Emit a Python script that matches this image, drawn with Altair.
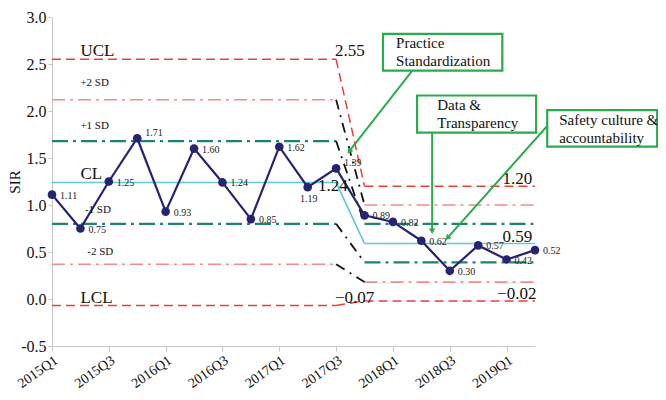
import math
import altair as alt
import pandas as pd

quarters = ["2015Q1", "2015Q2", "2015Q3", "2015Q4", "2016Q1", "2016Q2", "2016Q3", "2016Q4",
            "2017Q1", "2017Q2", "2017Q3", "2017Q4", "2018Q1", "2018Q2", "2018Q3", "2018Q4",
            "2019Q1", "2019Q2"]
sir = [1.11, 0.75, 1.25, 1.71, 0.93, 1.60, 1.24, 0.85, 1.62, 1.19, 1.39, 0.89, 0.82, 0.62,
       0.30, 0.57, 0.42, 0.52]
label_place = ["r", "r", "r", "ur", "r", "r", "r", "r", "r", "b", "ur", "r", "r", "r",
               "r", "r", "r", "r"]

limit_names = ["UCL", "+2 SD", "+1 SD", "CL", "-1 SD", "-2 SD", "LCL"]
phase1_limits = [2.55, 2.12, 1.68, 1.24, 0.80, 0.37, -0.07]
phase2_limits = [1.20, 1.00, 0.80, 0.59, 0.39, 0.18, -0.02]
phase1_end = 10
phase2_start = 11

boxes = ["Practice\nStandardization", "Data &\nTransparency", "Safety culture &\naccountability"]

# layout constants
W, H = 483, 329
XMAX, YMIN, YMAX = 17, -0.5, 3.0
PXX = W / XMAX
PXY = H / (YMAX - YMIN)
SERIF = "'Liberation Serif', 'Times New Roman', Times, 'DejaVu Serif', serif"

style_of = {"UCL": "ctrl", "LCL": "ctrl", "+2 SD": "sd2", "-2 SD": "sd2",
            "+1 SD": "sd1", "-1 SD": "sd1", "CL": "cl"}
trans_style = {"UCL": "ctrl", "LCL": "ctrl", "CL": "cl"}

rows = []
for name, a, b in zip(limit_names, phase1_limits, phase2_limits):
    st = style_of[name]
    rows += [dict(x=0, y=a, g=name + "1", s=st), dict(x=phase1_end, y=a, g=name + "1", s=st)]
    rows += [dict(x=phase2_start, y=b, g=name + "2", s=st), dict(x=XMAX, y=b, g=name + "2", s=st)]
    ts = trans_style.get(name, "trans")
    rows += [dict(x=phase1_end, y=a, g=name + "t", s=ts), dict(x=phase2_start, y=b, g=name + "t", s=ts)]
lim_df = pd.DataFrame(rows)

xs = alt.X("x:Q", scale=alt.Scale(domain=[0, XMAX], nice=False, zero=False),
           axis=alt.Axis(values=list(range(len(quarters))), title=None,
                         labelExpr="datum.value % 2 == 0 ? " + str(quarters) + "[datum.value] : ''",
                         labelAngle=325, labelAlign="right", labelBaseline="top",
                         labelFont=SERIF, labelFontSize=14, labelColor="#111",
                         domainColor="#c8c8c8", tickColor="#c8c8c8", tickSize=5,
                         labelPadding=2, grid=False))
ys = alt.Y("y:Q", scale=alt.Scale(domain=[YMIN, YMAX], nice=False, zero=False),
           axis=alt.Axis(values=[-0.5, 0, 0.5, 1, 1.5, 2, 2.5, 3], title="SIR",
                         labelExpr="replace(format(datum.value, '.1f'), '\u2212', '-')",
                         labelFont=SERIF, labelFontSize=16, labelColor="#111",
                         titleFont=SERIF, titleFontSize=15, titleFontWeight="normal",
                         titleColor="#111", titleX=-38, titleY=H / 2, titleAngle=270,
                         titleAlign="center", titleBaseline="middle",
                         domainColor="#c8c8c8", tickColor="#c8c8c8", tickSize=4, grid=False))
xq = alt.X("x:Q", scale=alt.Scale(domain=[0, XMAX]))
yq = alt.Y("y:Q", scale=alt.Scale(domain=[YMIN, YMAX]))

styles = {
    "ctrl": dict(color="#e8413a", strokeDash=[9, 5], strokeWidth=1.5),
    "sd2": dict(color="#f28c86", strokeDash=[13, 5, 3, 5], strokeWidth=1.6),
    "sd1": dict(color="#1d8474", strokeDash=[16, 5, 3, 5], strokeWidth=2.2),
    "cl": dict(color="#62c8da", strokeWidth=1.6),
    "trans": dict(color="#111111", strokeDash=[10, 6, 2, 6], strokeWidth=1.8),
}

base_lim = alt.Chart(lim_df)
layers = []
first = True
for key, st in styles.items():
    ch = base_lim.transform_filter(alt.datum.s == key).mark_line(clip=False, **st).encode(
        x=xs if first else xq, y=ys if first else yq, detail="g:N")
    first = False
    layers.append(ch)

# data series
data_df = pd.DataFrame({"x": list(range(len(quarters))), "y": sir, "q": quarters,
                        "p": label_place})
line = alt.Chart(data_df).mark_line(color="#262470", strokeWidth=2.2).encode(x=xq, y=yq)
pts = alt.Chart(data_df).mark_circle(color="#262470", size=75, opacity=1).encode(x=xq, y=yq)
lab_r = alt.Chart(data_df).transform_filter(alt.datum.p == "r").mark_text(
    align="left", baseline="middle", dx=8, dy=1, font=SERIF, fontSize=10, color="#222"
).encode(x=xq, y=yq, text=alt.Text("y:Q", format=".2f"))
lab_ur = alt.Chart(data_df).transform_filter(alt.datum.p == "ur").mark_text(
    align="left", baseline="middle", dx=8, dy=-5, font=SERIF, fontSize=10, color="#222"
).encode(x=xq, y=yq, text=alt.Text("y:Q", format=".2f"))
lab_b = alt.Chart(data_df).transform_filter(alt.datum.p == "b").mark_text(
    align="center", baseline="top", dx=1, dy=7, font=SERIF, fontSize=10, color="#222"
).encode(x=xq, y=yq, text=alt.Text("y:Q", format=".2f"))

# limit name labels
name_df = pd.DataFrame({
    "t": limit_names,
    "x": [1.0, 1.0, 1.0, 1.0, 1.16, 1.24, 1.0],
    "y": [2.59, 2.27, 1.81, 1.28, 0.91, 0.47, -0.04],
    "big": [True, False, False, True, False, False, True],
})
name_big = alt.Chart(name_df).transform_filter(alt.datum.big).mark_text(
    align="left", baseline="alphabetic", font=SERIF, fontSize=17, color="#111"
).encode(x=xq, y=yq, text="t:N")
name_small = alt.Chart(name_df).transform_filter(~alt.datum.big).mark_text(
    align="left", baseline="alphabetic", font=SERIF, fontSize=11, color="#111"
).encode(x=xq, y=yq, text="t:N")

# limit value labels
val_df = pd.DataFrame({
    "v": [phase1_limits[0], phase1_limits[3], phase1_limits[6],
          phase2_limits[0], phase2_limits[3], phase2_limits[6]],
    "x": [9.96, 9.36, 9.96, 16.9, 16.9, 17.05],
    "y": [2.59, 1.15, -0.04, 1.22, 0.61, 0.0],
    "a": ["l", "l", "l", "r", "r", "r"],
})
val_l = alt.Chart(val_df).transform_filter(alt.datum.a == "l").mark_text(
    align="left", baseline="alphabetic", font=SERIF, fontSize=17, color="#111"
).encode(x=xq, y=yq, text=alt.Text("v:Q", format=".2f"))
val_r = alt.Chart(val_df).transform_filter(alt.datum.a == "r").mark_text(
    align="right", baseline="alphabetic", font=SERIF, fontSize=17, color="#111"
).encode(x=xq, y=yq, text=alt.Text("v:Q", format=".2f"))

# annotation arrows
GREEN = "#2bab4c"
arr_df = pd.DataFrame({
    "x": [12.68, 13.38, 17.43],
    "y": [2.43, 1.77, 1.84],
    "x2": [10.46, 13.38, 13.92],
    "y2": [1.57, 0.72, 0.65],
})
arr_df["ang"] = [
    (math.degrees(math.atan2((r.x2 - r.x) * PXX, (r.y2 - r.y) * PXY)) + 360) % 360
    for r in arr_df.itertuples()
]
arrows = alt.Chart(arr_df).mark_rule(color=GREEN, strokeWidth=2, clip=False).encode(
    x=xq, y=yq, x2="x2:Q", y2="y2:Q")
heads = alt.Chart(arr_df).mark_point(shape="triangle-up", filled=True, color=GREEN, size=40,
                                     opacity=1, clip=False).encode(
    x=alt.X("x2:Q", scale=alt.Scale(domain=[0, XMAX])),
    y=alt.Y("y2:Q", scale=alt.Scale(domain=[YMIN, YMAX])),
    angle=alt.Angle("ang:Q", scale=None))

# annotation boxes
box_df = pd.DataFrame({
    "t": boxes,
    "x": [11.65, 12.85, 17.43],
    "x2": [15.85, 17.04, 21.30],
    "y": [2.82, 2.165, 2.01],
    "y2": [2.43, 1.77, 1.62],
    "tx": [12.11, 13.56, 17.85],
    "ty": [2.80, 2.135, 1.975],
})
rects = alt.Chart(box_df).mark_rect(fill="white", stroke=GREEN, strokeWidth=2.2, clip=False).encode(
    x=xq, x2="x2:Q", y=yq, y2="y2:Q")
box_text = alt.Chart(box_df).transform_calculate(lines="split(datum.t, '\\n')").mark_text(
    align="left", baseline="top", font=SERIF, fontSize=15, color="#111", lineHeight=18,
    clip=False
).encode(
    x=alt.X("tx:Q", scale=alt.Scale(domain=[0, XMAX])),
    y=alt.Y("ty:Q", scale=alt.Scale(domain=[YMIN, YMAX])),
    text="lines:N")

chart = alt.layer(
    *layers, line, pts, lab_r, lab_ur, lab_b, name_big, name_small, val_l, val_r,
    arrows, heads, rects, box_text
).properties(
    width=W, height=H,
    autosize=alt.AutoSizeParams(type="none"),
    padding={"left": 44, "top": 9, "right": 123, "bottom": 46},
    background="white",
).configure_view(stroke=None)

chart.save("out.html", embed_options={"renderer": "svg", "actions": False})
